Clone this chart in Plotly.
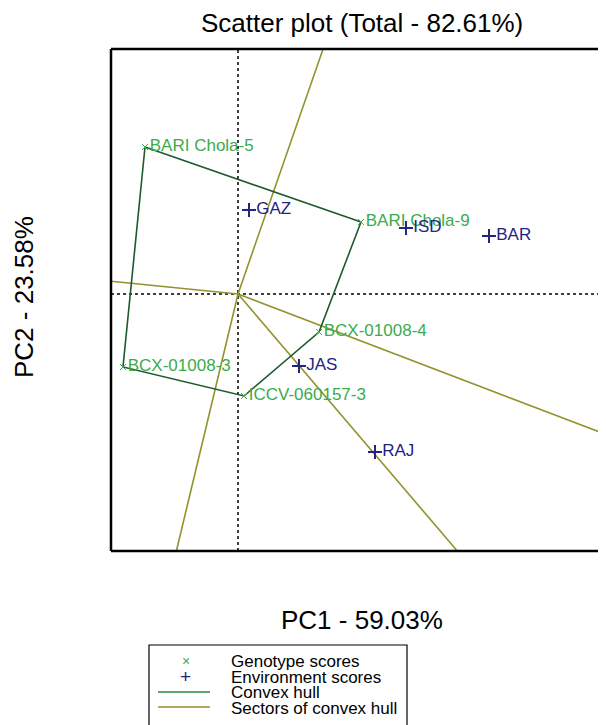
import plotly.graph_objects as go

# ---- data (PC scores) ----
genotypes = ["BARI Chola-5", "BARI Chola-9", "BCX-01008-4", "ICCV-060157-3", "BCX-01008-3"]
gen_pc1 = [-0.93, 1.23, 0.81, 0.06, -1.15]
gen_pc2 = [1.47, 0.72, -0.38, -1.02, -0.73]

environments = ["GAZ", "ISD", "BAR", "JAS", "RAJ"]
env_pc1 = [0.11, 1.68, 2.51, 0.61, 1.37]
env_pc2 = [0.84, 0.66, 0.58, -0.72, -1.58]

x_range = [-1.27, 3.68]
y_range = [-2.57, 2.45]

OFF = 8  # page body margin
W, H = 606 - OFF, 725 - OFF
ML, MR, MT, MB = 111 - OFF, 0, 49 - OFF, 174
PW, PH = W - ML - MR, H - MT - MB

def px(x):
    return (x - OFF - ML) / PW

def py(y):
    return (H - MB - (y - OFF)) / PH

GREEN_TXT = "#3cab4c"
NAVY = "#24237f"
HULL = "#1f5a2c"
SECTOR = "#92922e"
FONT = "Liberation Sans, Arial, sans-serif"

fig = go.Figure()

# dotted axes through origin
fig.add_trace(go.Scatter(x=[0, 0], y=y_range, mode="lines",
                         line=dict(color="black", dash="dot", width=1.5),
                         hoverinfo="skip", showlegend=False))
fig.add_trace(go.Scatter(x=x_range, y=[0, 0], mode="lines",
                         line=dict(color="black", dash="dot", width=1.5),
                         hoverinfo="skip", showlegend=False))

# sector rays: perpendicular from origin to each hull edge, clipped to plot area
n = len(gen_pc1)
for i in range(n):
    p = (gen_pc1[i], gen_pc2[i])
    q = (gen_pc1[(i + 1) % n], gen_pc2[(i + 1) % n])
    ex, ey = q[0] - p[0], q[1] - p[1]
    dx, dy = ey, -ex
    if dx * p[0] + dy * p[1] < 0:
        dx, dy = -dx, -dy
    ts = []
    if dx > 0:
        ts.append(x_range[1] / dx)
    elif dx < 0:
        ts.append(x_range[0] / dx)
    if dy > 0:
        ts.append(y_range[1] / dy)
    elif dy < 0:
        ts.append(y_range[0] / dy)
    t = min(ts)
    fig.add_trace(go.Scatter(x=[0, dx * t], y=[0, dy * t], mode="lines",
                             line=dict(color=SECTOR, width=1.6),
                             hoverinfo="skip", showlegend=False))

# convex hull
fig.add_trace(go.Scatter(x=gen_pc1 + [gen_pc1[0]], y=gen_pc2 + [gen_pc2[0]],
                         mode="lines", line=dict(color=HULL, width=1.6),
                         hoverinfo="skip", showlegend=False))

# genotype scores
fig.add_trace(go.Scatter(x=gen_pc1, y=gen_pc2, mode="markers+text",
                         text=genotypes, textposition="middle right",
                         textfont=dict(color=GREEN_TXT, size=17, family=FONT),
                         marker=dict(symbol="x-thin-open", size=6, color=GREEN_TXT,
                                     line=dict(color=GREEN_TXT, width=1)),
                         showlegend=False))

# environment scores
fig.add_trace(go.Scatter(x=env_pc1, y=env_pc2, mode="markers+text",
                         text=environments, textposition="middle right",
                         textfont=dict(color=NAVY, size=17, family=FONT),
                         marker=dict(symbol="cross-thin-open", size=10, color=NAVY,
                                     line=dict(color=NAVY, width=2)),
                         showlegend=False))

shapes = []
# plot border (left, top, bottom; right side lies beyond the picture)
for x0, y0, x1, y1 in [(0, 0, 0, 1), (0, 1, 1.02, 1), (0, 0, 1.02, 0)]:
    shapes.append(dict(type="line", xref="paper", yref="paper",
                       x0=x0, y0=y0, x1=x1, y1=y1,
                       line=dict(color="black", width=2.5)))

# legend box (bottom cut off by the picture edge)
shapes.append(dict(type="rect", xref="paper", yref="paper",
                   x0=px(149), x1=px(407), y0=py(645), y1=py(740),
                   line=dict(color="black", width=1.2), fillcolor="rgba(0,0,0,0)"))
shapes.append(dict(type="line", xref="paper", yref="paper",
                   x0=px(158), x1=px(210), y0=py(692), y1=py(692),
                   line=dict(color="#2f8a4a", width=1.6)))
shapes.append(dict(type="line", xref="paper", yref="paper",
                   x0=px(158), x1=px(210), y0=py(707), y1=py(707),
                   line=dict(color=SECTOR, width=1.6)))

annotations = [
    dict(text="Scatter plot (Total - 82.61%)", x=px(362), y=py(23),
         font=dict(size=26, color="black", family=FONT)),
    dict(text="PC1 - 59.03%", x=px(362), y=py(620),
         font=dict(size=26, color="black", family=FONT)),
    dict(text="PC2 - 23.58%", x=px(24), y=py(297), textangle=-90,
         font=dict(size=26, color="black", family=FONT)),
    dict(text="×", x=px(186), y=py(661),
         font=dict(size=14, color=GREEN_TXT, family=FONT)),
    dict(text="+", x=px(185), y=py(676),
         font=dict(size=19, color=NAVY, family=FONT)),
]
legend_labels = ["Genotype scores", "Environment scores", "Convex hull", "Sectors of convex hull"]
legend_y = [661, 677, 692, 708]
for lab, yy in zip(legend_labels, legend_y):
    annotations.append(dict(text=lab, x=px(229), y=py(yy), xanchor="left",
                            font=dict(size=17, color="black", family=FONT)))
for a in annotations:
    a.setdefault("xref", "paper")
    a.setdefault("yref", "paper")
    a.setdefault("showarrow", False)
    a.setdefault("xanchor", "center")
    a.setdefault("yanchor", "middle")

fig.update_layout(
    width=W, height=H,
    margin=dict(l=ML, r=MR, t=MT, b=MB),
    paper_bgcolor="white", plot_bgcolor="white",
    xaxis=dict(range=x_range, showgrid=False, zeroline=False, showticklabels=False,
               ticks="", showline=False, fixedrange=True),
    yaxis=dict(range=y_range, showgrid=False, zeroline=False, showticklabels=False,
               ticks="", showline=False, fixedrange=True),
    shapes=shapes, annotations=annotations,
    showlegend=False,
)

fig.write_html("out.html")
